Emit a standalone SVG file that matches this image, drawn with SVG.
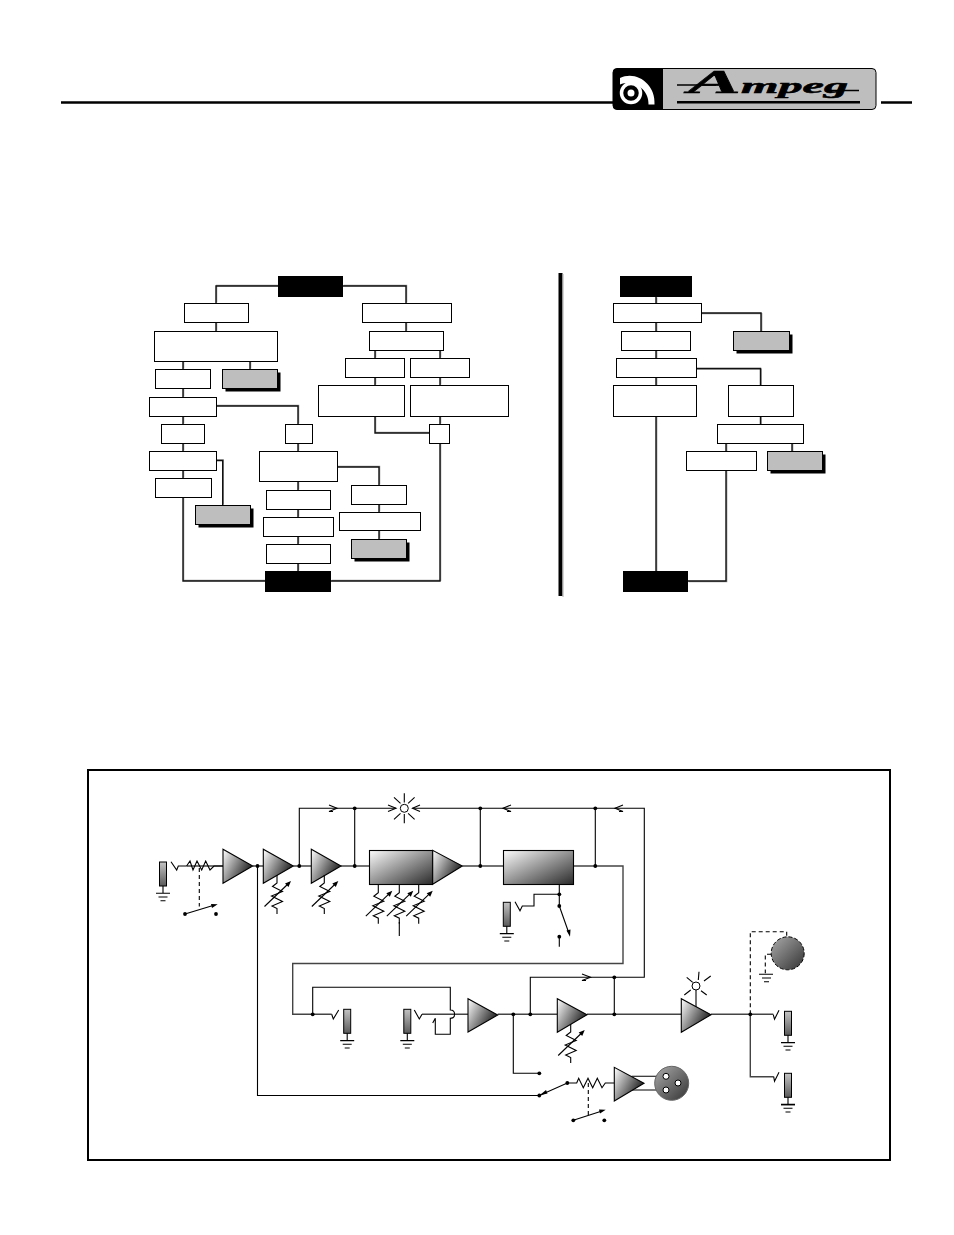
<svg xmlns="http://www.w3.org/2000/svg" width="954" height="1235" viewBox="0 0 954 1235">
<style>
.b{fill:#fff;stroke:#000;stroke-width:1}
.k{fill:#000}
.g{fill:#bebebe;stroke:#000;stroke-width:1}
.wire{fill:none;stroke:#111;stroke-width:1.400}
.halo{fill:none;stroke:#999;stroke-width:1.300}
.sig{fill:none;stroke:#444;stroke-width:1.400}
.blk{fill:none;stroke:#000;stroke-width:1.100}
.thin{fill:none;stroke:#000;stroke-width:1.100}
.dash{fill:none;stroke:#000;stroke-width:1.100;stroke-dasharray:4 3}
.amp{fill:url(#ga);stroke:#000;stroke-width:1.100}
.box{fill:url(#gb);stroke:#000;stroke-width:1.100}
.jack{fill:url(#gj);stroke:#000;stroke-width:1}
.led{fill:#fff;stroke:#000;stroke-width:1}
</style>
<defs>
<linearGradient id="ga" x1="0" y1="0.1" x2="1" y2="0.7"><stop offset="0" stop-color="#f8f8f8"/><stop offset="1" stop-color="#0c0c0c"/></linearGradient>
<linearGradient id="gb" x1="0" y1="0" x2="1" y2="1"><stop offset="0" stop-color="#fcfcfc"/><stop offset="1" stop-color="#2a2a2a"/></linearGradient>
<linearGradient id="gj" x1="0" y1="0" x2="0" y2="1"><stop offset="0" stop-color="#c4c4c4"/><stop offset="1" stop-color="#5a5a5a"/></linearGradient>
<linearGradient id="gx" x1="0" y1="0" x2="1" y2="1"><stop offset="0" stop-color="#aaa"/><stop offset="1" stop-color="#333"/></linearGradient>
<g id="jackg">
<rect class="jack" x="0" y="0" width="7" height="24"/>
<path class="thin" d="M3.500 24V31M-3.500 31.300H10.500M-1 35H8M1 38.700H6"/>
</g>
<g id="pot">
<path class="thin" d="M0 0V8L-4.500 11.500 5.500 16.500-5.500 21 5.500 26.500-5 31 0 33.500V39"/>
<path class="thin" d="M-12.500 31.500 12 8"/>
<path d="M14 6 11.500 12 8 8.500Z"/>
</g>
<circle id="dot" r="1.900" fill="#000"/>
<path id="chartL" d="M278 286H216V303M343 286H406V303M216 322V331M183 361V369M183 388V397M183 416V424M183 443V451M183 470V478M183 497V581H265M250 361V369M216 406H298V424M298 443V451M298 481V490M298 509V517M298 536V544M298 563V571M216 460.500H222.700V505M337 467H379V485M379 504V512M379 530V539M406 322V331M375 350V358M440 350V358M375 377V385M440 377V385M375 416V433H429M440 416V424M440 443V581H331"/>
<path id="chartR" d="M656 297V303M656 322V331M656 350V358M656 377V385M656 416V571M701 313H761V331M696 368.500H760.500V385M760.500 416V424M726 443V451M792 443V451M726 470V581H688"/>
</defs>

<g id="header">
<path d="M61 102.500H613M881 102.500H912" stroke="#000" stroke-width="2.500" fill="none"/>
</g>
<g id="logo">
<rect x="613" y="68.500" width="263" height="41" rx="4" fill="#bebebe" stroke="#000" stroke-width="1"/>
<path d="M617 68.500H663V109.500H617Q613 109.500 613 105.500V72.500Q613 68.500 617 68.500Z" fill="#000"/>
<circle cx="631" cy="93" r="9.500" fill="none" stroke="#fff" stroke-width="3.500"/>
<circle cx="631" cy="93" r="3.500" fill="#fff"/>
<path d="M620 78C636 70 656 84 654.500 104.500H648.500C649 90 635 79 620 84.500Z" fill="#fff"/>
<text x="688" y="93" font-family="'Liberation Serif',serif" font-style="italic" font-weight="700" font-size="20" stroke="#000" stroke-width=".5" textLength="160" lengthAdjust="spacingAndGlyphs"><tspan font-size="33">A</tspan>mpeg</text>
<path d="M677 85H716M828 90.500H859" stroke="#000" stroke-width="1.500" fill="none"/>
<rect x="677" y="101" width="183" height="2.500" fill="#000"/>
</g>

<g id="connectors">
<use href="#chartL" class="halo" transform="translate(.6 -.6)"/>
<use href="#chartL" class="wire"/>
<use href="#chartR" class="halo" transform="translate(.7 .6)"/>
<use href="#chartR" class="wire"/>
<path class="sig" d="M186.600 866H223M252.700 866H263.300M293.300 866H311.300M341 866H369.300M462.300 866H503.300M573.300 866H623V963.500H292.700V1014.300H331.700"/>
<path class="sig" d="M422 1014.300H468M497.700 1014.300H557.300M587 1014.300H681.300M711 1014.300H773.300M750.300 1014.300V1076.700H773.700"/>
<path class="blk" d="M257.500 866V1095.500H539.300M299.300 866V808.300H396M412.500 808.300H644.300V977.300H530.300V1014.300M354.700 808.300V866M480.300 808.300V866M595.300 808.300V866M614.300 977.300V1014.300"/>
<path class="blk" d="M312.700 1014.300V987.300H450.300V1010C456 1010 456 1018.300 450.300 1018.300V1034.300H435.300V1018.300L432.700 1023M513.300 1014.300V1073.300H539.300"/>
<path class="blk" d="M329 805 337 808.300 329 811.500H333M511 805 503 808.300 511 811.500H507M623 805 615 808.300 623 811.500H619M582 974 590.500 977.300 582 980.500H586M388 805 396 808.300 388 811.500M420 805 412.500 808.300 420 811.500"/>
<path class="thin" d="M539.300 1095.500 567.300 1083H576.700L578.700 1078.300 583.300 1087.700 588 1078.300 592.700 1087.700 597.300 1078.300 602 1087.700 605.300 1083H614.300"/>
<path class="thin" d="M631.700 1076.300H663M631.700 1090H663"/>
<path class="thin" d="M422 1014.300 419.300 1019 414.300 1010M331.700 1014.300 333.300 1019 338.700 1010M773.300 1014.700 774.500 1019.300 779 1010.300M773.700 1076.700 774.500 1081.300 779 1072.300M186.600 866H178.300L176.700 870 171 861.700"/>
<path class="thin" d="M186.600 866 190 861 193 870 197 861 201.700 870 205.700 861 210 870 214 866H223"/>
<path class="dash" d="M199.300 868V906.500M588.300 1083V1115"/>
<path class="thin" d="M185 914 213 905.500M573.300 1120.300 602 1111"/>
<path d="M217.700 904.300 212 908 211 904ZM605.700 1109.700 600 1113.500 599 1109.500ZM570 936.700 566.500 930.500 570.500 929.500ZM539.300 1095.500 546 1090 547.500 1093.500Z"/>
<path class="dash" d="M750.300 1014.300V931.700H786.700V936.700M771 954.300H765.300V973.300"/>
<path class="blk" d="M559.300 884.300V906M559.300 894.300H534V906H522.300L520 910.700 515 901.700"/>
<path class="thin" d="M559.300 906 568.500 932M559.300 936.700V946.700M399.300 922V936"/>
<use href="#dot" x="185" y="914"/><use href="#dot" x="216" y="914"/><use href="#dot" x="573.300" y="1120.300"/><use href="#dot" x="604.300" y="1120.300"/>
<use href="#dot" x="257.500" y="866"/><use href="#dot" x="299.300" y="866"/><use href="#dot" x="354.700" y="866"/><use href="#dot" x="354.700" y="808.300"/><use href="#dot" x="480.300" y="866"/><use href="#dot" x="480.300" y="808.300"/><use href="#dot" x="595.300" y="866"/><use href="#dot" x="595.300" y="808.300"/>
<use href="#dot" x="559.300" y="894.300"/><use href="#dot" x="559.300" y="906"/><use href="#dot" x="559.300" y="936.700"/>
<use href="#dot" x="312.700" y="1014.300"/><use href="#dot" x="513.300" y="1014.300"/><use href="#dot" x="530.300" y="1014.300"/><use href="#dot" x="614.300" y="1014.300"/><use href="#dot" x="614.300" y="977.300"/><use href="#dot" x="750.300" y="1014.300"/>
<use href="#dot" x="539.300" y="1073.300"/><use href="#dot" x="539.300" y="1095.500"/><use href="#dot" x="567.300" y="1083"/>
</g>

<g id="chart-divider"><rect x="558.500" y="273" width="4" height="323" fill="#000"/><rect x="562.500" y="274" width="1" height="323" fill="#aaa"/></g>

<g id="n-start-l"><rect class="k" x="278" y="276" width="65" height="21"/></g>
<g id="n-l1"><rect class="b" x="184.500" y="303.500" width="64" height="19"/></g>
<g id="n-l2"><rect class="b" x="154.500" y="331.500" width="123" height="30"/></g>
<g id="n-l3"><rect class="b" x="155.500" y="369.500" width="55" height="19"/></g>
<g id="n-lg1"><rect class="k" x="225.500" y="372.500" width="55" height="19"/><rect class="g" x="222.500" y="369.500" width="55" height="19"/></g>
<g id="n-l4"><rect class="b" x="149.500" y="397.500" width="67" height="19"/></g>
<g id="n-l5"><rect class="b" x="161.500" y="424.500" width="43" height="19"/></g>
<g id="n-l6"><rect class="b" x="149.500" y="451.500" width="67" height="19"/></g>
<g id="n-l7"><rect class="b" x="155.500" y="478.500" width="56" height="19"/></g>
<g id="n-lg2"><rect class="k" x="198.500" y="508.500" width="55" height="19"/><rect class="g" x="195.500" y="505.500" width="55" height="19"/></g>
<g id="n-m1"><rect class="b" x="285.500" y="424.500" width="27" height="19"/></g>
<g id="n-m2"><rect class="b" x="259.500" y="451.500" width="78" height="30"/></g>
<g id="n-m3"><rect class="b" x="266.500" y="490.500" width="64" height="19"/></g>
<g id="n-m4"><rect class="b" x="263.500" y="517.500" width="70" height="19"/></g>
<g id="n-m5"><rect class="b" x="266.500" y="544.500" width="64" height="19"/></g>
<g id="n-end-l"><rect class="k" x="265" y="571" width="66" height="21"/></g>
<g id="n-r1"><rect class="b" x="362.500" y="303.500" width="89" height="19"/></g>
<g id="n-r2"><rect class="b" x="369.500" y="331.500" width="74" height="19"/></g>
<g id="n-r3"><rect class="b" x="345.500" y="358.500" width="59" height="19"/></g>
<g id="n-r4"><rect class="b" x="410.500" y="358.500" width="59" height="19"/></g>
<g id="n-r5"><rect class="b" x="318.500" y="385.500" width="86" height="31"/></g>
<g id="n-r6"><rect class="b" x="410.500" y="385.500" width="98" height="31"/></g>
<g id="n-r7"><rect class="b" x="429.500" y="424.500" width="20" height="19"/></g>
<g id="n-s1"><rect class="b" x="351.500" y="485.500" width="55" height="19"/></g>
<g id="n-s2"><rect class="b" x="339.500" y="512.500" width="81" height="18"/></g>
<g id="n-sg"><rect class="k" x="354.500" y="542.500" width="55" height="19"/><rect class="g" x="351.500" y="539.500" width="55" height="19"/></g>

<g id="n-start-r"><rect class="k" x="620" y="276" width="72" height="21"/></g>
<g id="n-c1"><rect class="b" x="613.500" y="303.500" width="88" height="19"/></g>
<g id="n-c2"><rect class="b" x="621.500" y="331.500" width="69" height="19"/></g>
<g id="n-cg1"><rect class="k" x="736.500" y="334.500" width="56" height="19"/><rect class="g" x="733.500" y="331.500" width="56" height="19"/></g>
<g id="n-c3"><rect class="b" x="616.500" y="358.500" width="80" height="19"/></g>
<g id="n-c4"><rect class="b" x="613.500" y="385.500" width="83" height="31"/></g>
<g id="n-c5"><rect class="b" x="728.500" y="385.500" width="65" height="31"/></g>
<g id="n-c6"><rect class="b" x="717.500" y="424.500" width="86" height="19"/></g>
<g id="n-c7"><rect class="b" x="686.500" y="451.500" width="70" height="19"/></g>
<g id="n-cg2"><rect class="k" x="770.500" y="454.500" width="55" height="19"/><rect class="g" x="767.500" y="451.500" width="55" height="19"/></g>
<g id="n-end-r"><rect class="k" x="623" y="571" width="65" height="21"/></g>

<g id="frame"><rect x="88" y="770" width="802" height="390" fill="none" stroke="#000" stroke-width="2"/></g>

<g id="jack-in"><use href="#jackg" x="159.500" y="862"/></g>
<g id="amp-1"><polygon class="amp" points="223,849.300 223,883.300 252.700,866"/></g>
<g id="amp-2"><polygon class="amp" points="263.300,849.300 263.300,883.300 293.300,866"/><use href="#pot" x="277" y="875"/></g>
<g id="amp-3"><polygon class="amp" points="311.300,849.300 311.300,883.300 341,866"/><use href="#pot" x="324.300" y="875"/></g>
<g id="eq"><rect class="box" x="369.500" y="850.500" width="63" height="34"/><polygon class="amp" points="432.700,850.300 432.700,884.300 462.300,866"/>
<use href="#pot" x="378.300" y="884.700"/><use href="#pot" x="399.300" y="884.700"/><use href="#pot" x="418.700" y="884.700"/></g>
<g id="comp"><rect class="box" x="503.500" y="850.500" width="70" height="34"/></g>
<g id="jack-sw"><use href="#jackg" x="503.300" y="902.300"/></g>
<g id="led-1"><circle class="led" cx="404.300" cy="808.300" r="4"/><path class="thin" d="M404.300 793.300V802.500M404.300 814V823.300M394 797.300 400.500 803.300M414.600 797.300 408.100 803.300M394 819.300 400.500 813.300M414.600 819.300 408.100 813.300"/></g>
<g id="jack-a"><use href="#jackg" x="343.700" y="1009.300"/></g>
<g id="jack-b"><use href="#jackg" x="403.800" y="1009.300"/></g>
<g id="amp-5"><polygon class="amp" points="468,998.700 468,1032 497.700,1015"/></g>
<g id="amp-6"><polygon class="amp" points="557.300,998.700 557.300,1032.300 587,1014.700"/><use href="#pot" x="570.700" y="1024"/></g>
<g id="amp-7"><path class="thin" d="M696 990V1007"/><polygon class="amp" points="681.300,998.700 681.300,1032.300 711,1014.700"/></g>
<g id="led-2"><circle class="led" cx="696" cy="986" r="4"/><path class="thin" d="M699 971.700 698.300 980M686.700 977.300 692.700 982.300M710.700 976 704 981M684.300 995 690.700 990M706.700 995 701 990.700"/></g>
<g id="amp-8"><polygon class="amp" points="614.300,1067.300 614.300,1101 644,1083.300"/></g>
<g id="xlr"><circle cx="671.700" cy="1083.300" r="17" fill="url(#gx)" stroke="#666" stroke-width="1"/><circle class="led" cx="666" cy="1076.300" r="3"/><circle class="led" cx="678" cy="1083" r="3"/><circle class="led" cx="666" cy="1090" r="3"/></g>
<g id="speaker"><circle cx="787.700" cy="953.300" r="16.500" fill="url(#gx)" stroke="#000" stroke-width="1" stroke-dasharray="4 2"/><path class="thin" d="M759 974.300H773M762 978H771M764 981.700H769"/></g>
<g id="jack-o1"><use href="#jackg" x="784.500" y="1011.300"/></g>
<g id="jack-o2"><use href="#jackg" x="784.500" y="1073.300"/><path d="M781 1104.500H795" stroke="#000" stroke-width="1.500"/></g>
</svg>
